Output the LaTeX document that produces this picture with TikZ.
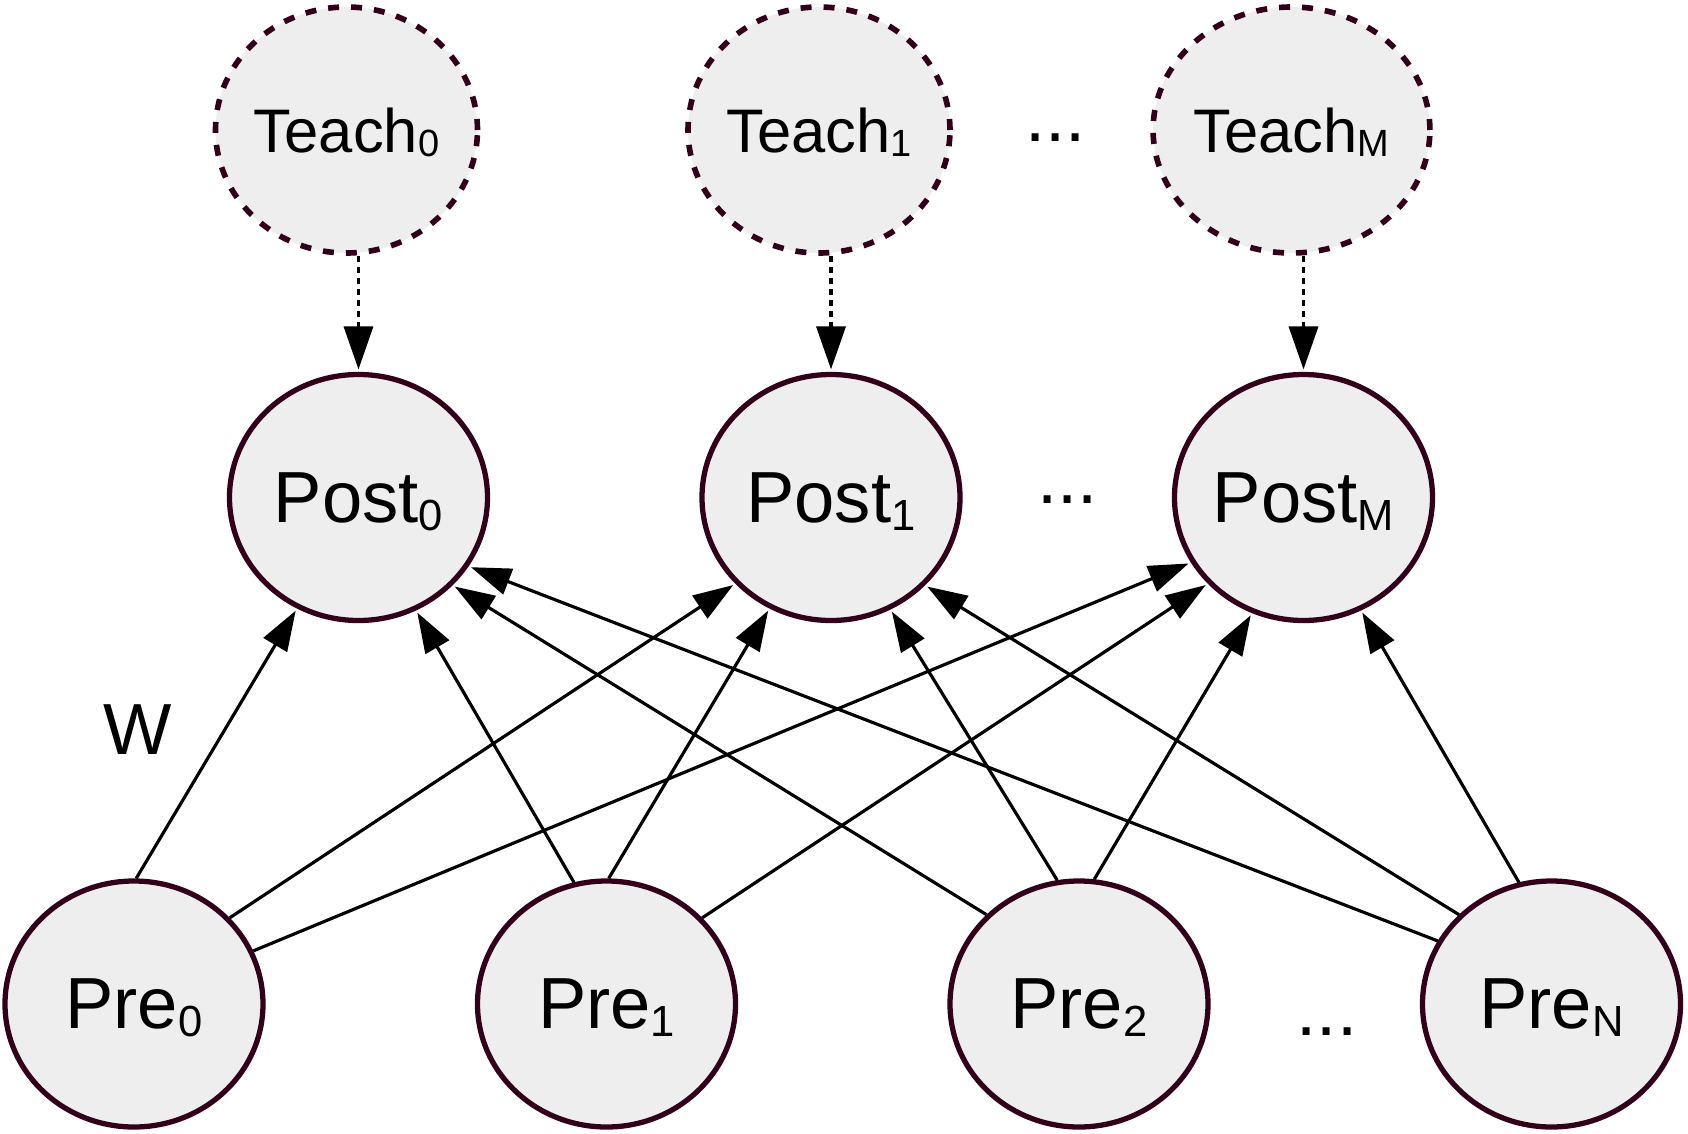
\documentclass[tikz,border=0pt]{standalone}
\usepackage{fontspec}
\setmainfont{Liberation Sans}
\usepackage{tikz}
\usetikzlibrary{arrows.meta,positioning,shapes.geometric}

\definecolor{nrnline}{HTML}{33001A}
\definecolor{nrnfill}{HTML}{EEEEEE}
\newcommand\postfont{\fontsize{20.6pt}{24pt}\selectfont}
\newcommand\teachfont{\fontsize{17.5pt}{20pt}\selectfont}
\newcommand\pidx[1]{\raisebox{-2.2pt}{\fontsize{12.4pt}{14pt}\selectfont #1}}
\newcommand\tidx[1]{\raisebox{-1.2pt}{\fontsize{10.8pt}{12pt}\selectfont #1}}

\begin{document}
\begin{tikzpicture}[->,>={Triangle[length=0.4cm,width=0.27cm]},shorten >=0.7pt,
   node distance=4.725cm,on grid,line width=0.9pt,
   neuron/.style={ellipse,draw=nrnline,fill=nrnfill,line width=1.5pt,
     minimum width=2.58cm,minimum height=2.46cm,inner sep=0pt,
     text depth=0pt,font=\postfont},
   teacher/.style={neuron,line width=1.6pt,dash pattern=on 0.11cm off 0.12cm,font=\teachfont},
   teach link/.style={line width=1pt,dash pattern=on 0.06cm off 0.05cm,
     -{Triangle[length=0.43cm,width=0.29cm]}},
   dots/.style={inner sep=0pt,anchor=base,font=\postfont}]
   \useasboundingbox (0,0) rectangle (16.88,11.33);
   \node[neuron] (pre0) at (1.34,1.29) {Pre\pidx{0}};
   \node[neuron] (pre1) [right=of pre0] {Pre\pidx{1}};
   \node[neuron] (pre2) [right=of pre1] {Pre\pidx{2}};
   \node[neuron] (preN) [right=of pre2] {Pre\pidx{N}};
   \node[neuron] (post0) [above right=5.065cm and 2.245cm of pre0] {Post\pidx{0}};
   \node[neuron] (post1) [right=of post0] {Post\pidx{1}};
   \node[neuron] (postM) [right=of post1] {Post\pidx{M}};
   \node[teacher] (teach0) [above left=3.675cm and 0.12cm of post0] {Teach\tidx{0}};
   \node[teacher] (teach1) [right=of teach0] {Teach\tidx{1}};
   \node[teacher] (teachM) [right=of teach1] {Teach\tidx{M}};
   \node[font=\postfont] (w) [above right=2.74cm and 0.04cm of pre0] {W};
   \node[dots] (tdots) at (10.555,9.92) {...};
   \node[dots] (pdots) at (10.675,6.30) {...};
   \node[dots] (rdots) at (13.27,0.98) {...};
    \path
    (teach0.south -| post0) edge[teach link] (post0.north)
    (teach1.south -| post1) edge[teach link] (post1.north)
    (teachM.south -| postM) edge[teach link] (postM.north)
    (pre0.89.5)  edge (post0.241.3)
    (pre0.42.8)  edge (post1.222.4)
    (pre0.24)    edge (postM.210.9)
    (pre1.105.9) edge (post0.297.9)
    (pre1.89.5)  edge (post1.241.5)
    (pre1.42.8)  edge (postM.222.8)
    (pre2.136.9) edge (post0.317.2)
    (pre2.100.6) edge (post1.298.5)
    (pre2.83.5)  edge (postM.246.7)
    (preN.151.2) edge (post0.328.9)
    (preN.136.9) edge (post1.317)
    (preN.105.9) edge (postM.297.9);
\end{tikzpicture}
\end{document}
